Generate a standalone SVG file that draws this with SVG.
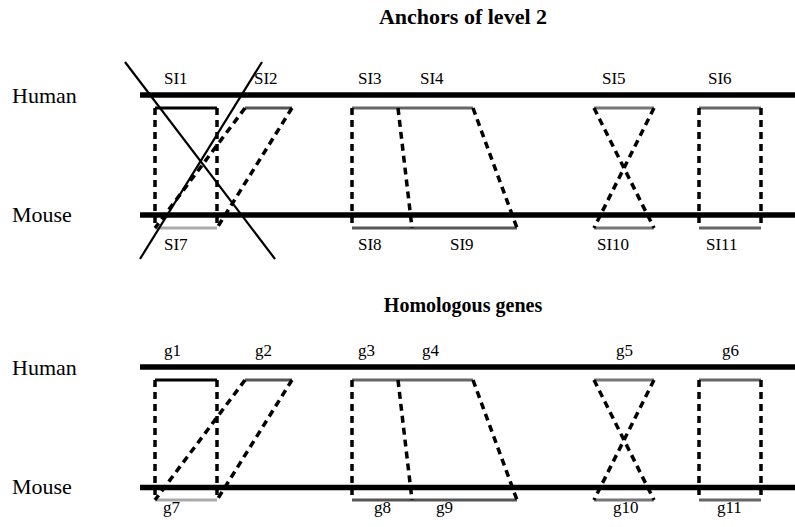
<svg xmlns="http://www.w3.org/2000/svg" width="795" height="527" viewBox="0 0 795 527">
<style>
.t{font-family:"Liberation Serif","Times New Roman",serif;fill:#000}
.title{font-size:20px;font-weight:bold;text-anchor:middle}
.sp{font-size:22px}
.lb{font-size:17px}
.chr{stroke:#000;stroke-width:5.5;fill:none}
.seg{stroke-width:3;fill:none}
.dash{stroke:#000;stroke-width:3.5;stroke-dasharray:7 5;fill:none}
.cross{stroke:#000;stroke-width:2.2;fill:none}
</style>
<rect width="795" height="527" fill="#fff"/>
<text class="t title" x="463" y="24" style="font-size:22px">Anchors of level 2</text>
<text class="t title" x="463" y="312">Homologous genes</text>

<g id="chromosomes">
<g id="human1"><text class="t sp" x="12" y="103">Human</text><line class="chr" x1="140" y1="95" x2="795" y2="95"/></g>
<g id="mouse1"><text class="t sp" x="12" y="222">Mouse</text><line class="chr" x1="140" y1="215" x2="795" y2="215"/></g>
<g id="human2"><text class="t sp" x="12" y="375">Human</text><line class="chr" x1="140" y1="367" x2="795" y2="367"/></g>
<g id="mouse2"><text class="t sp" x="12" y="494">Mouse</text><line class="chr" x1="140" y1="487.5" x2="795" y2="487.5"/></g>
</g>

<!-- top section segments -->
<g id="SI1"><line class="seg" stroke="#000" x1="155" y1="108" x2="217" y2="108"/><text class="t lb" x="164" y="84">SI1</text></g>
<g id="SI2"><line class="seg" stroke="#555" x1="245" y1="108" x2="292" y2="108"/><text class="t lb" x="254" y="84">SI2</text></g>
<g id="SI3"><line class="seg" stroke="#666" x1="352" y1="108" x2="398" y2="108"/><text class="t lb" x="358" y="84">SI3</text></g>
<g id="SI4"><line class="seg" stroke="#666" x1="398" y1="108" x2="473" y2="108"/><text class="t lb" x="420" y="84">SI4</text></g>
<g id="SI5"><line class="seg" stroke="#777" x1="594" y1="108" x2="654" y2="108"/><text class="t lb" x="602" y="84">SI5</text></g>
<g id="SI6"><line class="seg" stroke="#666" x1="699" y1="108" x2="761" y2="108"/><text class="t lb" x="708" y="84">SI6</text></g>
<g id="SI7"><line class="seg" stroke="#aaa" x1="155" y1="228" x2="217" y2="228"/><text class="t lb" x="164" y="250">SI7</text></g>
<g id="SI8"><line class="seg" stroke="#555" x1="352" y1="228" x2="412" y2="228"/><text class="t lb" x="358" y="250">SI8</text></g>
<g id="SI9"><line class="seg" stroke="#555" x1="412" y1="228" x2="517" y2="228"/><text class="t lb" x="450" y="250">SI9</text></g>
<g id="SI10"><line class="seg" stroke="#777" x1="594" y1="228" x2="654" y2="228"/><text class="t lb" x="597" y="250">SI10</text></g>
<g id="SI11"><line class="seg" stroke="#666" x1="699" y1="228" x2="761" y2="228"/><text class="t lb" x="706" y="250">SI11</text></g>

<!-- bottom section segments -->
<g id="g1"><line class="seg" stroke="#000" x1="155" y1="380" x2="217" y2="380"/><text class="t lb" x="164" y="356">g1</text></g>
<g id="g2"><line class="seg" stroke="#555" x1="245" y1="380" x2="292" y2="380"/><text class="t lb" x="255" y="356">g2</text></g>
<g id="g3"><line class="seg" stroke="#666" x1="352" y1="380" x2="398" y2="380"/><text class="t lb" x="358" y="356">g3</text></g>
<g id="g4"><line class="seg" stroke="#666" x1="398" y1="380" x2="473" y2="380"/><text class="t lb" x="422" y="356">g4</text></g>
<g id="g5"><line class="seg" stroke="#777" x1="594" y1="380" x2="654" y2="380"/><text class="t lb" x="616" y="356">g5</text></g>
<g id="g6"><line class="seg" stroke="#666" x1="699" y1="380" x2="761" y2="380"/><text class="t lb" x="722" y="356">g6</text></g>
<g id="g7"><line class="seg" stroke="#aaa" x1="155" y1="500" x2="217" y2="500"/><text class="t lb" x="163" y="513">g7</text></g>
<g id="g8"><line class="seg" stroke="#555" x1="352" y1="500" x2="412" y2="500"/><text class="t lb" x="374" y="513">g8</text></g>
<g id="g9"><line class="seg" stroke="#555" x1="412" y1="500" x2="517" y2="500"/><text class="t lb" x="436" y="513">g9</text></g>
<g id="g10"><line class="seg" stroke="#777" x1="594" y1="500" x2="654" y2="500"/><text class="t lb" x="613" y="513">g10</text></g>
<g id="g11"><line class="seg" stroke="#666" x1="699" y1="500" x2="761" y2="500"/><text class="t lb" x="717" y="513">g11</text></g>

<g id="connectors">
<!-- top -->
<line class="dash" x1="155" y1="108" x2="155" y2="228"/>
<line class="dash" x1="217" y1="108" x2="217" y2="228"/>
<line class="dash" x1="245" y1="108" x2="155" y2="228"/>
<line class="dash" x1="292" y1="108" x2="217" y2="228"/>
<line class="dash" x1="352" y1="108" x2="352" y2="228"/>
<line class="dash" x1="398" y1="108" x2="412" y2="228"/>
<line class="dash" x1="473" y1="108" x2="517" y2="228"/>
<line class="dash" x1="594" y1="108" x2="654" y2="228"/>
<line class="dash" x1="654" y1="108" x2="594" y2="228"/>
<line class="dash" x1="699" y1="108" x2="699" y2="228"/>
<line class="dash" x1="761" y1="108" x2="761" y2="228"/>
<!-- bottom -->
<line class="dash" x1="155" y1="380" x2="155" y2="500"/>
<line class="dash" x1="217" y1="380" x2="217" y2="500"/>
<line class="dash" x1="245" y1="380" x2="155" y2="500"/>
<line class="dash" x1="292" y1="380" x2="217" y2="500"/>
<line class="dash" x1="352" y1="380" x2="352" y2="500"/>
<line class="dash" x1="398" y1="380" x2="412" y2="500"/>
<line class="dash" x1="473" y1="380" x2="517" y2="500"/>
<line class="dash" x1="594" y1="380" x2="654" y2="500"/>
<line class="dash" x1="654" y1="380" x2="594" y2="500"/>
<line class="dash" x1="699" y1="380" x2="699" y2="500"/>
<line class="dash" x1="761" y1="380" x2="761" y2="500"/>
</g>

<g id="cross">
<line class="cross" x1="125" y1="62" x2="275" y2="259"/>
<line class="cross" x1="262" y1="62" x2="140" y2="259"/>
</g>
</svg>
